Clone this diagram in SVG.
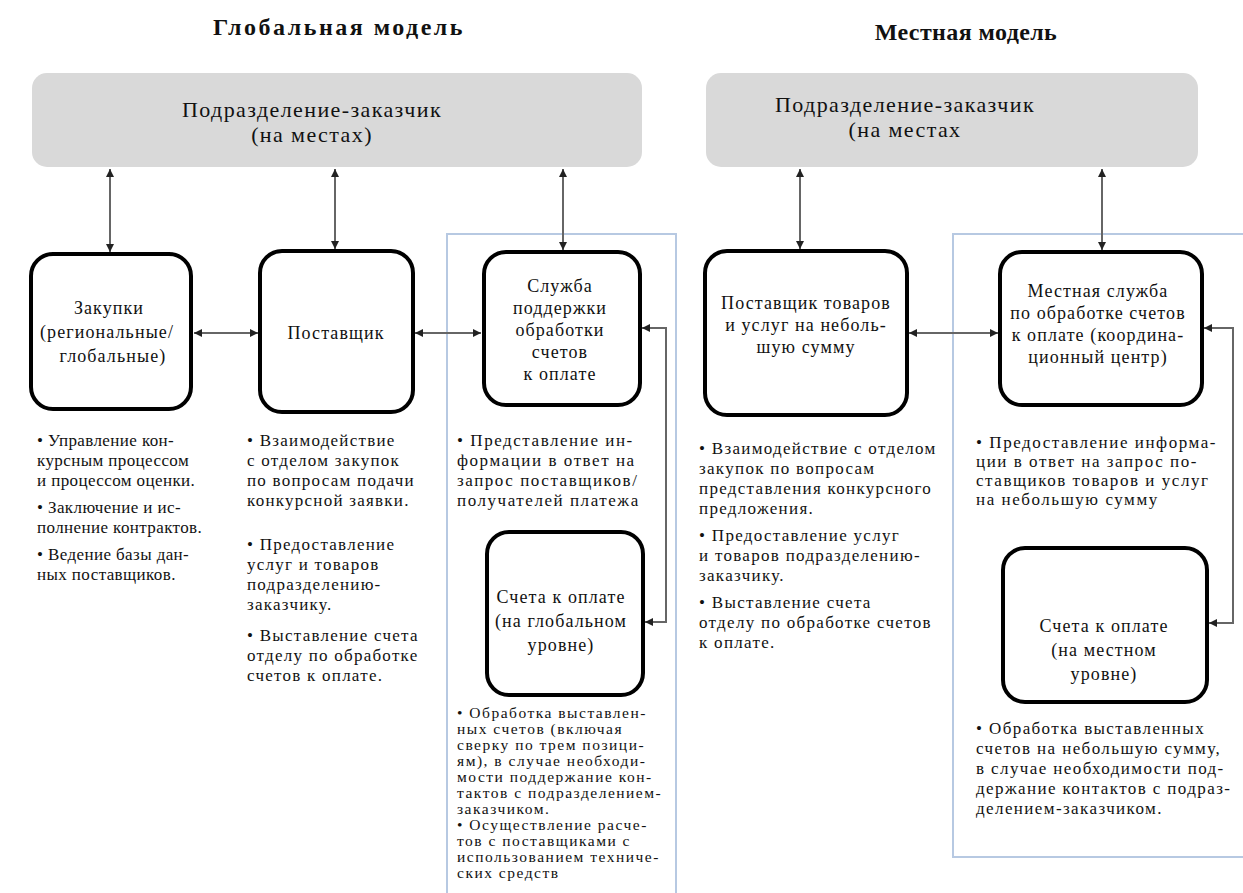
<svg xmlns="http://www.w3.org/2000/svg" width="1243" height="893" viewBox="0 0 1243 893" font-family="'Liberation Serif', serif">
<style>
text{font-family:'Liberation Serif','Times New Roman',serif;fill:#111}
.title{font-size:24px;font-weight:bold;text-anchor:middle}
.hdr{font-size:22px;letter-spacing:1.4px;text-anchor:middle}
.node{font-size:18px;letter-spacing:1.1px;text-anchor:middle}
.body{font-size:17px}
.c1{letter-spacing:0.4px}
.c2{letter-spacing:1.25px}
.c3{letter-spacing:1.55px}
.c4{letter-spacing:1.3px}
.c5{letter-spacing:1.55px}
.c6{letter-spacing:1.4px}
.small{font-size:15.5px;letter-spacing:1.5px}
.head{fill:#d9d9d9;stroke:none}
.box{fill:#fff;stroke:#000;stroke-width:4}
.frame{fill:none;stroke:#b7c9e2;stroke-width:2}
.conn{fill:none;stroke:#666;stroke-width:2;marker-start:url(#ah);marker-end:url(#ah)}
</style>
<defs>
<marker id="ah" viewBox="0 0 10 10" refX="10" refY="5" markerWidth="4" markerHeight="4" orient="auto-start-reverse" markerUnits="strokeWidth">
<path d="M0,0 L10,5 L0,10 z" fill="#222"/>
</marker>
</defs>

<text class="title" x="339" y="35" letter-spacing="2.5">Глобальная модель</text>
<text class="title" x="966" y="40" letter-spacing="0.4">Местная модель</text>

<g id="frames">
<path class="frame" d="M447,893 V234 H676 V893"/>
<path class="frame" d="M1250,857 H953 V234 H1250"/>
</g>

<g id="header-global">
<rect class="head" x="32" y="73" width="610" height="94" rx="15"/>
<text class="hdr" x="312" y="117">Подразделение-заказчик</text>
<text class="hdr" x="312" y="142">(на местах)</text>
</g>
<g id="header-local">
<rect class="head" x="706" y="73" width="492" height="94" rx="15"/>
<text class="hdr" x="905" y="112" letter-spacing="0.3">Подразделение-заказчик</text>
<text class="hdr" x="905" y="137" letter-spacing="0.8">(на местах</text>
</g>

<g id="connectors">
<line class="conn" x1="110" y1="169" x2="110" y2="252"/>
<line class="conn" x1="335" y1="169" x2="335" y2="249"/>
<line class="conn" x1="563" y1="169" x2="563" y2="250"/>
<line class="conn" x1="800" y1="169" x2="800" y2="249"/>
<line class="conn" x1="1102" y1="169" x2="1102" y2="250"/>
<line class="conn" x1="194" y1="333" x2="258" y2="333"/>
<line class="conn" x1="415" y1="333" x2="481" y2="333"/>
<line class="conn" x1="909" y1="333" x2="998" y2="333"/>
<path class="conn" d="M642,328 H666 V622 H645"/>
<path class="conn" d="M1204,328 H1233 V623 H1209"/>
</g>

<g id="zakupki">
<rect class="box" x="31" y="254" width="160" height="155" rx="22"/>
<text class="node" x="109" y="314" letter-spacing="1.7">Закупки</text>
<text class="node" x="107" y="338" letter-spacing="1.9">(региональные/</text>
<text class="node" x="113" y="362" letter-spacing="1.7">глобальные)</text>
</g>
<g id="postavshchik">
<rect class="box" x="260" y="251" width="153" height="161" rx="22"/>
<text class="node" x="336" y="339">Поставщик</text>
</g>
<g id="sluzhba">
<rect class="box" x="484" y="252" width="156" height="153" rx="22"/>
<text class="node" x="560" y="292">Служба</text>
<text class="node" x="560" y="314">поддержки</text>
<text class="node" x="560" y="336">обработки</text>
<text class="node" x="560" y="358">счетов</text>
<text class="node" x="560" y="380">к оплате</text>
</g>
<g id="scheta-global">
<rect class="box" x="487" y="532" width="156" height="163" rx="22"/>
<text class="node" x="561" y="603">Счета к оплате</text>
<text class="node" x="561" y="627">(на глобальном</text>
<text class="node" x="561" y="651">уровне)</text>
</g>
<g id="postavshchik-local">
<rect class="box" x="705" y="251" width="202" height="164" rx="22"/>
<text class="node" x="806" y="309">Поставщик товаров</text>
<text class="node" x="806" y="331">и услуг на неболь-</text>
<text class="node" x="806" y="353">шую сумму</text>
</g>
<g id="mestnaya-sluzhba">
<rect class="box" x="1000" y="252" width="202" height="153" rx="22"/>
<text class="node" x="1098" y="297">Местная служба</text>
<text class="node" x="1098" y="319">по обработке счетов</text>
<text class="node" x="1098" y="341">к оплате (координа-</text>
<text class="node" x="1098" y="363">ционный центр)</text>
</g>
<g id="scheta-local">
<rect class="box" x="1003" y="548" width="204" height="154" rx="22"/>
<text class="node" x="1104" y="632">Счета к оплате</text>
<text class="node" x="1104" y="656">(на местном</text>
<text class="node" x="1104" y="680">уровне)</text>
</g>

<g id="notes">
<text class="body c1" x="37" y="446">• Управление кон-</text>
<text class="body c1" x="37" y="466">курсным процессом</text>
<text class="body c1" x="37" y="486">и процессом оценки.</text>
<text class="body c1" x="37" y="513">• Заключение и ис-</text>
<text class="body c1" x="37" y="533">полнение контрактов.</text>
<text class="body c1" x="37" y="560">• Ведение базы дан-</text>
<text class="body c1" x="37" y="580">ных поставщиков.</text>

<text class="body c2" x="247" y="446">• Взаимодействие</text>
<text class="body c2" x="247" y="466">с отделом закупок</text>
<text class="body c2" x="247" y="486">по вопросам подачи</text>
<text class="body c2" x="247" y="506">конкурсной заявки.</text>
<text class="body c2" x="247" y="550">• Предоставление</text>
<text class="body c2" x="247" y="570">услуг и товаров</text>
<text class="body c2" x="247" y="590">подразделению-</text>
<text class="body c2" x="247" y="610">заказчику.</text>
<text class="body c2" x="247" y="641">• Выставление счета</text>
<text class="body c2" x="247" y="661">отделу по обработке</text>
<text class="body c2" x="247" y="681">счетов к оплате.</text>

<text class="body c3" x="457" y="446">• Представление ин-</text>
<text class="body c3" x="457" y="466">формации в ответ на</text>
<text class="body c3" x="457" y="486">запрос поставщиков/</text>
<text class="body c3" x="457" y="506">получателей платежа</text>

<text class="small" x="457" y="718">• Обработка выставлен-</text>
<text class="small" x="457" y="734">ных счетов (включая</text>
<text class="small" x="457" y="750">сверку по трем позици-</text>
<text class="small" x="457" y="766">ям), в случае необходи-</text>
<text class="small" x="457" y="782">мости поддержание кон-</text>
<text class="small" x="457" y="798">тактов с подразделением-</text>
<text class="small" x="457" y="814">заказчиком.</text>
<text class="small" x="457" y="830">• Осуществление расче-</text>
<text class="small" x="457" y="846">тов с поставщиками с</text>
<text class="small" x="457" y="862">использованием техниче-</text>
<text class="small" x="457" y="878">ских средств</text>

<text class="body c4" x="699" y="454">• Взаимодействие с отделом</text>
<text class="body c4" x="699" y="474">закупок по вопросам</text>
<text class="body c4" x="699" y="494">представления конкурсного</text>
<text class="body c4" x="699" y="514">предложения.</text>
<text class="body c4" x="699" y="541">• Предоставление услуг</text>
<text class="body c4" x="699" y="561">и товаров подразделению-</text>
<text class="body c4" x="699" y="581">заказчику.</text>
<text class="body c4" x="699" y="608">• Выставление счета</text>
<text class="body c4" x="699" y="628">отделу по обработке счетов</text>
<text class="body c4" x="699" y="648">к оплате.</text>

<text class="body c5" x="976" y="448">• Предоставление информа-</text>
<text class="body c5" x="976" y="467">ции в ответ на запрос по-</text>
<text class="body c5" x="976" y="486">ставщиков товаров и услуг</text>
<text class="body c5" x="976" y="505">на небольшую сумму</text>

<text class="body c6" x="976" y="734">• Обработка выставленных</text>
<text class="body c6" x="976" y="754">счетов на небольшую сумму,</text>
<text class="body c6" x="976" y="774">в случае необходимости под-</text>
<text class="body c6" x="976" y="794">держание контактов с подраз-</text>
<text class="body c6" x="976" y="814">делением-заказчиком.</text>
</g>
</svg>
